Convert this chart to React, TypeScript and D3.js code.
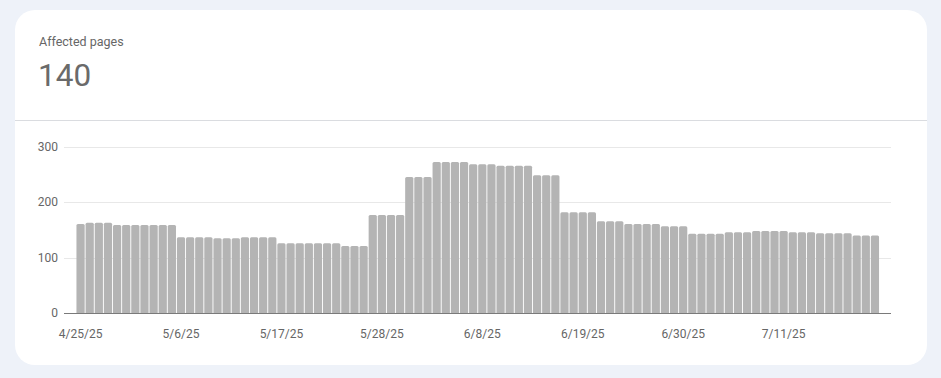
import React from "react";
import * as d3 from "d3";

const title = "Affected pages";
const currentValue = "140";
const startDate = new Date(2025, 3, 25);
const values: number[] = [
  161, 163, 163, 163, 159, 159, 159, 159, 159, 159, 159,
  137, 137, 137, 137, 135, 135, 135, 137, 137, 137, 137,
  126, 126, 126, 126, 126, 126, 126, 121, 121, 121,
  177, 177, 177, 177, 246, 246, 246,
  273, 273, 273, 273, 269, 269, 269, 266, 266, 266, 266,
  249, 249, 249, 182, 182, 182, 182, 166, 166, 166,
  161, 161, 161, 161, 157, 157, 157, 143, 143, 143, 143,
  146, 146, 146, 148, 148, 148, 148, 146, 146, 146,
  144, 144, 144, 144, 140, 140, 140,
];
const dates: Date[] = d3.timeDay.range(startDate, d3.timeDay.offset(startDate, values.length));
const xTickLabels = ["4/25/25", "5/6/25", "5/17/25", "5/28/25", "6/8/25", "6/19/25", "6/30/25", "7/11/25"];
const yTicks = [0, 100, 200, 300];

const fmt = d3.timeFormat("%-m/%-d/%y");

export default function App() {
  const W = 941, H = 378;
  const plotLeft = 64, plotRight = 891;
  const x = d3
    .scaleBand<string>()
    .domain(dates.map((d) => fmt(d)))
    .range([76, 879.5])
    .paddingInner(0.1)
    .paddingOuter(0.05);
  const y = d3.scaleLinear().domain([0, 300]).range([313, 147]);
  const bw = x.bandwidth();
  const r = 1.5;
  const font = "Roboto, 'Noto Sans', sans-serif";
  const barPath = (x0: number, y0: number, w: number, y1: number) =>
    `M${x0},${y1}V${y0 + r}Q${x0},${y0} ${x0 + r},${y0}H${x0 + w - r}Q${x0 + w},${y0} ${x0 + w},${y0 + r}V${y1}Z`;

  return (
    <div style={{ position: "fixed", left: 0, top: 0, width: W, height: H }}>
      <svg width={W} height={H} style={{ display: "block" }}>
        <rect x={0} y={0} width={W} height={H} fill="#eef2f9" />
        <rect x={15} y={10} width={912} height={355} rx={20} ry={20} fill="#ffffff" />
        <line x1={15} x2={927} y1={120.5} y2={120.5} stroke="#dadce0" strokeWidth={1} />
        <text x={39} y={46} fontFamily={font} fontSize={12.5} fill="#666666">
          {title}
        </text>
        <text x={38} y={86} fontFamily={font} fontSize={31.5} fill="#6a6a6a">
          {currentValue}
        </text>
        {yTicks.map((t) => (
          <g key={t}>
            {t > 0 && (
              <line x1={plotLeft} x2={plotRight} y1={Math.round(y(t)) + 0.5} y2={Math.round(y(t)) + 0.5} stroke="#e8e8e8" strokeWidth={1} />
            )}
            <text x={58} y={y(t) + 4} textAnchor="end" fontFamily={font} fontSize={12} fill="#666666">
              {t}
            </text>
          </g>
        ))}
        {dates.map((d, i) => {
          const k = fmt(d);
          const x0 = x(k) as number;
          return <path key={k} d={barPath(x0, y(values[i]), bw, y(0))} fill="#b4b4b4" />;
        })}
        <line x1={plotLeft} x2={plotRight} y1={313.5} y2={313.5} stroke="#7a7a7a" strokeWidth={1} />
        {xTickLabels.map((lab) => (
          <text
            key={lab}
            x={(x(lab) as number) + bw / 2}
            y={338}
            textAnchor="middle"
            fontFamily={font}
            fontSize={12}
            fill="#666666"
          >
            {lab}
          </text>
        ))}
      </svg>
    </div>
  );
}
